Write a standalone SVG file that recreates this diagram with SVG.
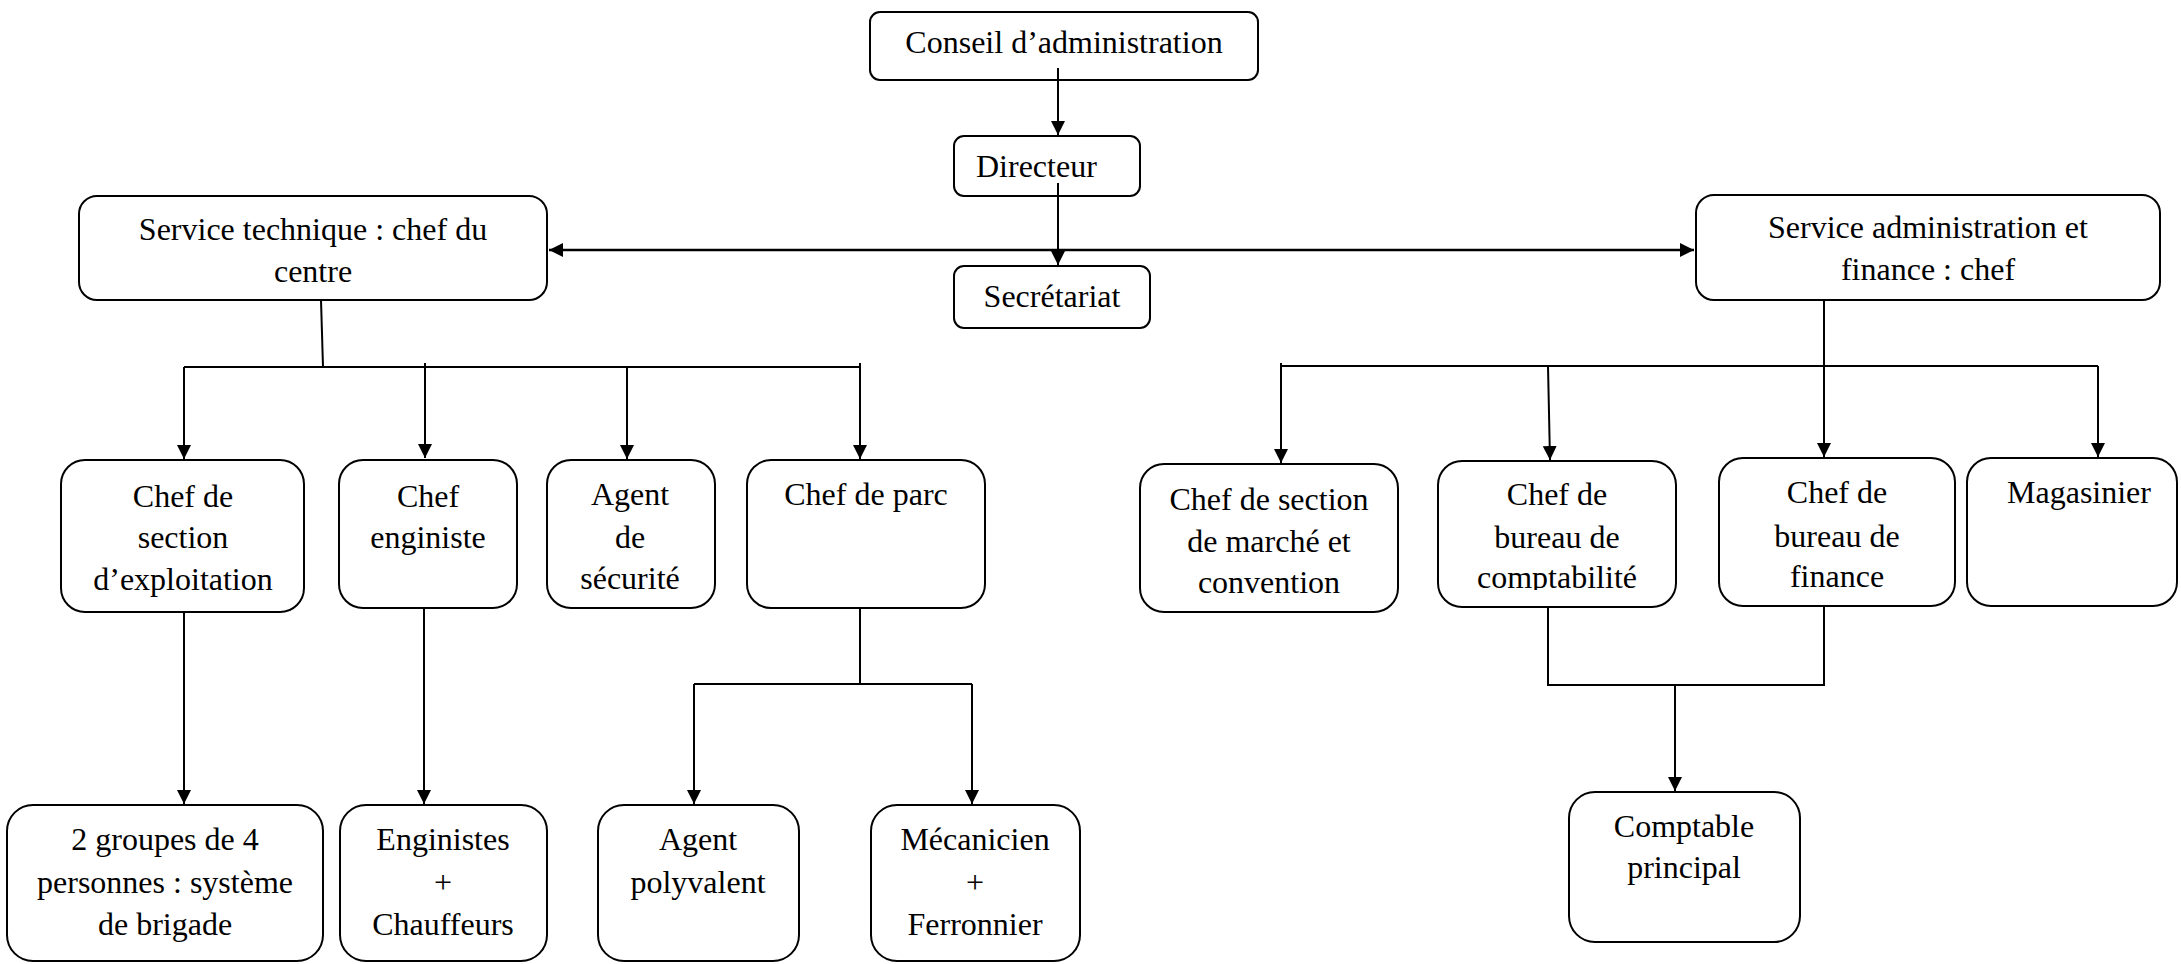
<svg xmlns="http://www.w3.org/2000/svg" width="2181" height="964" viewBox="0 0 2181 964">
<style>
.box{fill:#fff;stroke:#000;stroke-width:2}
.t{font-family:"Liberation Serif","Times New Roman",serif;font-size:32px;fill:#000;text-anchor:middle}
.c{fill:none;stroke:#000;stroke-width:2}
.a{fill:none;stroke:#000;stroke-width:2;marker-end:url(#ah)}
</style>
<defs>
<marker id="ah" viewBox="0 0 14 14" refX="14" refY="7" markerWidth="14" markerHeight="14" markerUnits="userSpaceOnUse" orient="auto">
<path d="M0,0 L14,7 L0,14 Z" fill="#000"/>
</marker>
<marker id="ahs" viewBox="0 0 14 14" refX="0" refY="7" markerWidth="14" markerHeight="14" markerUnits="userSpaceOnUse" orient="auto">
<path d="M14,0 L0,7 L14,14 Z" fill="#000"/>
</marker>
<clipPath id="clipCompta"><rect x="1438" y="461" width="238" height="129"/></clipPath>
</defs>

<g id="n-conseil"><rect class="box" x="870" y="12" width="388" height="68" rx="10"/><text class="t" x="1064" y="53">Conseil d’administration</text></g>
<g id="n-directeur"><rect class="box" x="954" y="136" width="186" height="60" rx="10"/><text class="t" x="976" y="177" style="text-anchor:start">Directeur</text></g>
<g id="n-secretariat"><rect class="box" x="954" y="266" width="196" height="62" rx="10"/><text class="t" x="1052" y="307">Secrétariat</text></g>

<g id="n-service-tech"><rect class="box" x="79" y="196" width="468" height="104" rx="18"/><text class="t" x="313" y="240">Service technique : chef du</text><text class="t" x="313" y="282">centre</text></g>
<g id="n-service-admin"><rect class="box" x="1696" y="195" width="464" height="105" rx="18"/><text class="t" x="1928" y="238">Service administration et</text><text class="t" x="1928" y="280">finance : chef</text></g>

<g id="n-chef-exploit"><rect class="box" x="61" y="460" width="243" height="152" rx="24"/><text class="t" x="183" y="507">Chef de</text><text class="t" x="183" y="548">section</text><text class="t" x="183" y="590">d’exploitation</text></g>
<g id="n-chef-enginiste"><rect class="box" x="339" y="460" width="178" height="148" rx="24"/><text class="t" x="428" y="507">Chef</text><text class="t" x="428" y="548">enginiste</text></g>
<g id="n-agent-securite"><rect class="box" x="547" y="460" width="168" height="148" rx="24"/><text class="t" x="630" y="505">Agent</text><text class="t" x="630" y="548">de</text><text class="t" x="630" y="589">sécurité</text></g>
<g id="n-chef-parc"><rect class="box" x="747" y="460" width="238" height="148" rx="24"/><text class="t" x="866" y="505">Chef de parc</text></g>

<g id="n-chef-marche"><rect class="box" x="1140" y="464" width="258" height="148" rx="24"/><text class="t" x="1269" y="510">Chef de section</text><text class="t" x="1269" y="552">de marché et</text><text class="t" x="1269" y="593">convention</text></g>
<g id="n-chef-compta"><rect class="box" x="1438" y="461" width="238" height="146" rx="24"/><g clip-path="url(#clipCompta)"><text class="t" x="1557" y="505">Chef de</text><text class="t" x="1557" y="548">bureau de</text><text class="t" x="1557" y="588">comptabilité</text></g></g>
<g id="n-chef-finance"><rect class="box" x="1719" y="458" width="236" height="148" rx="24"/><text class="t" x="1837" y="503">Chef de</text><text class="t" x="1837" y="547">bureau de</text><text class="t" x="1837" y="587">finance</text></g>
<g id="n-magasinier"><rect class="box" x="1967" y="458" width="210" height="148" rx="24"/><text class="t" x="2079" y="503">Magasinier</text></g>

<g id="n-groupes"><rect class="box" x="7" y="805" width="316" height="156" rx="26"/><text class="t" x="165" y="850">2 groupes de 4</text><text class="t" x="165" y="893">personnes : système</text><text class="t" x="165" y="935">de brigade</text></g>
<g id="n-enginistes"><rect class="box" x="340" y="805" width="207" height="156" rx="26"/><text class="t" x="443" y="850">Enginistes</text><text class="t" x="443" y="893">+</text><text class="t" x="443" y="935">Chauffeurs</text></g>
<g id="n-agent-polyvalent"><rect class="box" x="598" y="805" width="201" height="156" rx="26"/><text class="t" x="698" y="850">Agent</text><text class="t" x="698" y="893">polyvalent</text></g>
<g id="n-mecanicien"><rect class="box" x="871" y="805" width="209" height="156" rx="26"/><text class="t" x="975" y="850">Mécanicien</text><text class="t" x="975" y="893">+</text><text class="t" x="975" y="935">Ferronnier</text></g>
<g id="n-comptable"><rect class="box" x="1569" y="792" width="231" height="150" rx="26"/><text class="t" x="1684" y="837">Comptable</text><text class="t" x="1684" y="878">principal</text></g>

<g id="connectors">
<line class="a" x1="1058" y1="68" x2="1058" y2="135"/>
<line class="a" x1="1058" y1="183" x2="1058" y2="265"/>
<line class="c" x1="549" y1="250" x2="1694" y2="250" style="stroke-width:2.5;marker-start:url(#ahs);marker-end:url(#ah)"/>

<polyline class="c" points="321,300 323,367"/>
<line class="c" x1="184" y1="367" x2="860" y2="367"/>
<line class="a" x1="184" y1="367" x2="184" y2="459"/>
<line class="a" x1="425" y1="363" x2="425" y2="458"/>
<line class="a" x1="627" y1="367" x2="627" y2="459"/>
<line class="a" x1="860" y1="363" x2="860" y2="459"/>

<line class="a" x1="184" y1="612" x2="184" y2="804"/>
<line class="a" x1="424" y1="608" x2="424" y2="804"/>
<polyline class="c" points="860,608 860,684"/>
<line class="c" x1="694" y1="684" x2="972" y2="684"/>
<line class="a" x1="694" y1="684" x2="694" y2="804"/>
<line class="a" x1="972" y1="684" x2="972" y2="804"/>

<line class="a" x1="1824" y1="300" x2="1824" y2="457"/>
<line class="c" x1="1281" y1="366" x2="2098" y2="366"/>
<line class="a" x1="1281" y1="363" x2="1281" y2="463"/>
<line class="a" x1="1548" y1="366" x2="1550" y2="460"/>
<line class="a" x1="2098" y1="366" x2="2098" y2="457"/>

<polyline class="c" points="1548,607 1548,685 1824,685 1824,606"/>
<line class="a" x1="1675" y1="685" x2="1675" y2="791"/>
</g>
</svg>
